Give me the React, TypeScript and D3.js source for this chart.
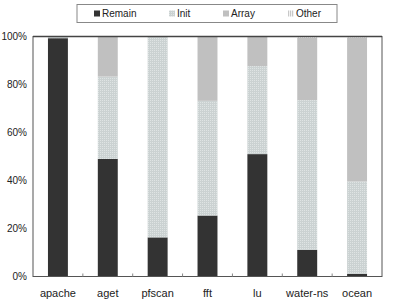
import React from 'react'
import * as d3 from 'd3'

const categories = ['apache', 'aget', 'pfscan', 'fft', 'lu', 'water-ns', 'ocean']
const seriesNames = ['Remain', 'Init', 'Array', 'Other']
const remain = [99.3, 49, 16.3, 25.4, 51, 11.1, 1.1]
const init = [0.7, 34.3, 83.5, 47.8, 36.7, 62.4, 38.5]
const arrayPart = [0, 16.7, 0, 26.8, 12.3, 26.0, 60.0]
const other = [0, 0, 0.2, 0, 0, 0.5, 0.4]
const yTicks = [0, 20, 40, 60, 80, 100]

const width = 415
const height = 308
const left = 33
const right = 382
const top = 36.5
const bottom = 276.5
const legendX = [94, 169, 223, 288]

const fills = ['#333333', 'url(#initPat)', '#c0c0c0', 'url(#otherPat)']

const App = () => {
     const rows = categories.map((c, i) => ({
          name: c,
          Remain: remain[i],
          Init: init[i],
          Array: arrayPart[i],
          Other: other[i],
     }))
     const stacked = d3.stack<any>().keys(seriesNames)(rows)

     const x = d3
          .scaleBand()
          .domain(categories)
          .range([left, right])
          .paddingInner(0.6)
          .paddingOuter(0.3)
     const y = d3.scaleLinear().domain([0, 100]).range([bottom, top])
     const step = (right - left) / categories.length

     const font = 'Liberation Sans, Arial, sans-serif'

     return (
          <svg
               width={width}
               height={height}
               style={{ position: 'absolute', left: 0, top: 0, background: '#fff' }}
          >
               <defs>
                    <pattern id="initPat" width="2" height="2" patternUnits="userSpaceOnUse">
                         <rect width="2" height="2" fill="#cbd2d2" />
                         <rect width="1" height="1" fill="#dfe4e4" />
                    </pattern>
                    <pattern id="otherPat" width="2" height="2" patternUnits="userSpaceOnUse">
                         <rect width="2" height="2" fill="#f2f2f2" />
                         <rect width="1" height="2" fill="#c8c8c8" />
                    </pattern>
               </defs>

               {stacked.map((s, si) => (
                    <g key={s.key} fill={fills[si]}>
                         {s.map((d, i) => {
                              const h = y(d[0]) - y(d[1])
                              if (h <= 0) return null
                              return (
                                   <rect
                                        key={i}
                                        x={x(categories[i])}
                                        y={y(d[1])}
                                        width={x.bandwidth()}
                                        height={h}
                                   />
                              )
                         })}
                    </g>
               ))}

               {/* frame */}
               <rect
                    x={left}
                    y={top}
                    width={right - left}
                    height={bottom - top}
                    fill="none"
                    stroke="#555"
                    strokeWidth={1}
               />
               <line x1={left} x2={right} y1={top} y2={top} stroke="#444" strokeWidth={1.5} />

               {/* x ticks at category boundaries */}
               {categories.slice(1).map((c, i) => (
                    <line
                         key={c}
                         x1={left + step * (i + 1)}
                         x2={left + step * (i + 1)}
                         y1={bottom}
                         y2={bottom - 3}
                         stroke="#888"
                    />
               ))}

               {yTicks.map((t) => (
                    <text
                         key={t}
                         x={27}
                         y={y(t)}
                         dy="0.35em"
                         textAnchor="end"
                         fontFamily={font}
                         fontSize={10}
                         fill="#222"
                    >
                         {t}%
                    </text>
               ))}

               {categories.map((c) => (
                    <text
                         key={c}
                         x={(x(c) as number) + x.bandwidth() / 2}
                         y={297}
                         textAnchor="middle"
                         fontFamily={font}
                         fontSize={11}
                         fill="#222"
                    >
                         {c}
                    </text>
               ))}

               {/* legend */}
               <rect x={77} y={4.5} width={260} height={18} fill="#fff" stroke="#888" />
               {seriesNames.map((n, i) => (
                    <g key={n} transform={`translate(${legendX[i]},0)`}>
                         <rect x={0} y={10.5} width={6} height={6} fill={fills[i]} />
                         <text x={8} y={17} fontFamily={font} fontSize={10} fill="#222">
                              {n}
                         </text>
                    </g>
               ))}
          </svg>
     )
}

export default App
